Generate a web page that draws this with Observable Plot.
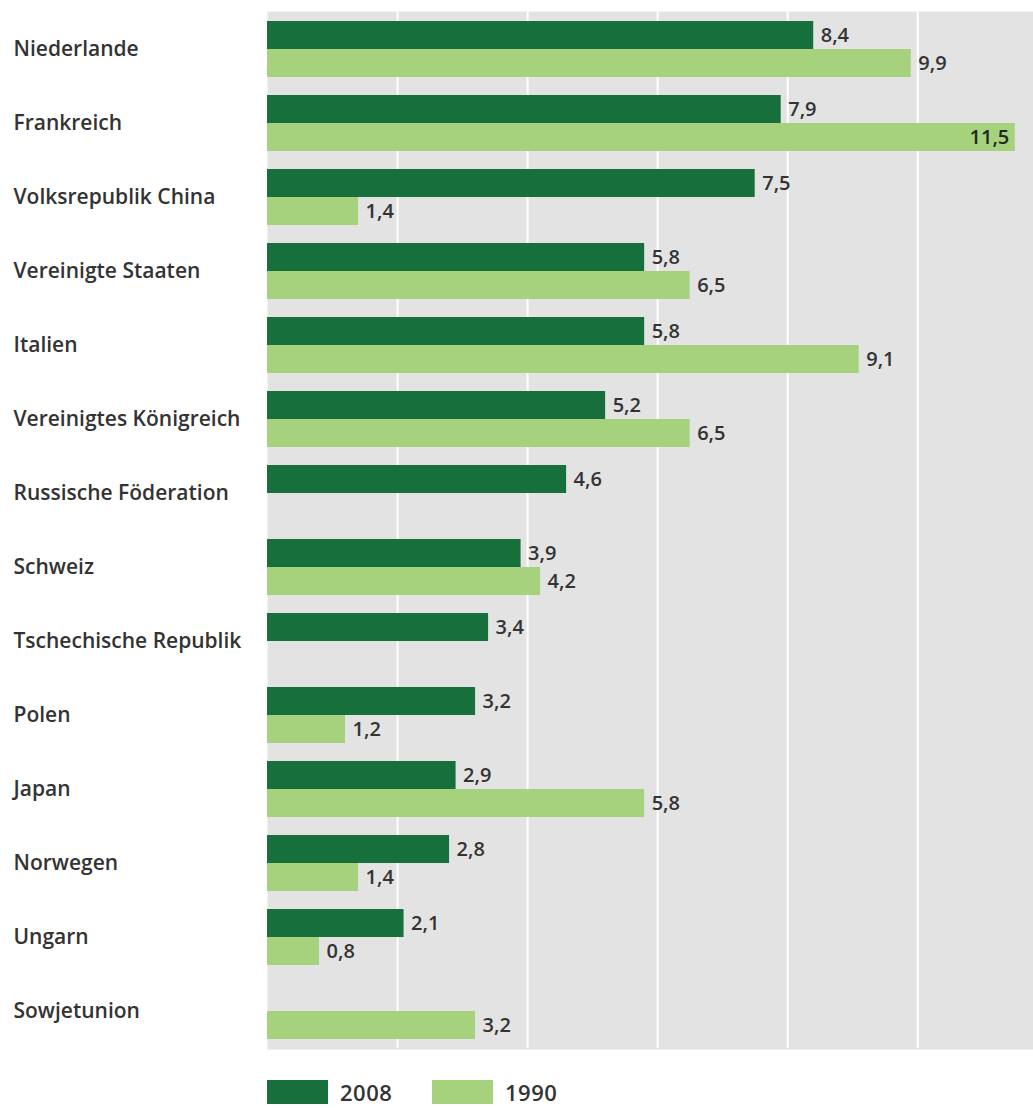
<!DOCTYPE html>
<html><head><meta charset="utf-8">
<script src="https://cdn.jsdelivr.net/npm/d3@7"></script>
<script src="https://cdn.jsdelivr.net/npm/@observablehq/plot@0.6"></script>
<style>
body{margin:0;background:#fff;font-family:"Open Sans",sans-serif;}
#legend{display:flex;align-items:center;padding-left:267px;margin-top:29px;font-size:22px;line-height:22px;font-weight:600;color:#333;letter-spacing:0.5px}
.item{display:flex;align-items:center}
.sw{width:61px;height:24px;display:inline-block;margin-right:12px}
svg text.val{letter-spacing:0.8px}
</style></head><body>
<div id="chart"></div>
<div id="legend"></div>
<script>
const countries = ["Niederlande","Frankreich","Volksrepublik China","Vereinigte Staaten","Italien","Vereinigtes Königreich","Russische Föderation","Schweiz","Tschechische Republik","Polen","Japan","Norwegen","Ungarn","Sowjetunion"];
const values2008 = [8.4,7.9,7.5,5.8,5.8,5.2,4.6,3.9,3.4,3.2,2.9,2.8,2.1,null];
const values1990 = [9.9,11.5,1.4,6.5,9.1,6.5,null,4.2,null,1.2,5.8,1.4,0.8,3.2];
const years = ["2008","1990"];
const colors = ["#17703b","#a6d27d"];
const xTicks = [2,4,6,8,10];
const xMax = 11.78;

const rows = [];
countries.forEach((c,i)=>{
  if (values2008[i] != null) rows.push({country:c, year:"2008", value:values2008[i]});
  if (values1990[i] != null) rows.push({country:c, year:"1990", value:values1990[i]});
});
const locale = d3.formatLocale({decimal:",", thousands:".", grouping:[3], currency:["","€"]});
const fmt = locale.format(".1f");
const fits = d => d.value < xMax - 0.5;

const chart = Plot.plot({
  width:1033, height:1051,
  marginLeft:267, marginRight:0, marginTop:9, marginBottom:0,
  style:{fontFamily:"'Open Sans', sans-serif", fontSize:"18px", color:"#333", background:"white"},
  x:{domain:[0,xMax], axis:null},
  fy:{domain:countries, padding:0, axis:null},
  y:{domain:years, paddingInner:0, paddingOuter:0.3, axis:null},
  color:{domain:years, range:colors},
  marks:[
    Plot.frame({fill:"#e3e3e3", stroke:null, insetTop:-1, insetBottom:-1}),
    Plot.ruleX(xTicks, {stroke:"white", strokeWidth:2}),
    Plot.barX(rows, {x:"value", y:"year", fy:"country", fill:"year"}),
    Plot.text(rows, {filter:fits, x:"value", y:"year", fy:"country", text:d=>fmt(d.value), textAnchor:"start", dx:7, fill:"#333", fontSize:20, fontWeight:600, className:"val"}),
    Plot.text(rows, {filter:d=>!fits(d), x:"value", y:"year", fy:"country", text:d=>fmt(d.value), textAnchor:"end", dx:-6, fill:"#1f2a1f", fontSize:20, fontWeight:600, className:"val"}),
    Plot.text(countries, {fy:d=>d, frameAnchor:"left", text:d=>d, textAnchor:"start", dx:-254, fill:"#333", fontSize:21, fontWeight:600})
  ]
});
document.getElementById("chart").appendChild(chart);

const legend = document.getElementById("legend");
years.forEach((y,i)=>{
  const it = document.createElement("div");
  it.className = "item";
  if (i===0) it.style.width = "165px";
  const sw = document.createElement("span");
  sw.className = "sw"; sw.style.background = colors[i];
  const t = document.createElement("span"); t.textContent = y;
  it.appendChild(sw); it.appendChild(t);
  legend.appendChild(it);
});
</script>
</body></html>
